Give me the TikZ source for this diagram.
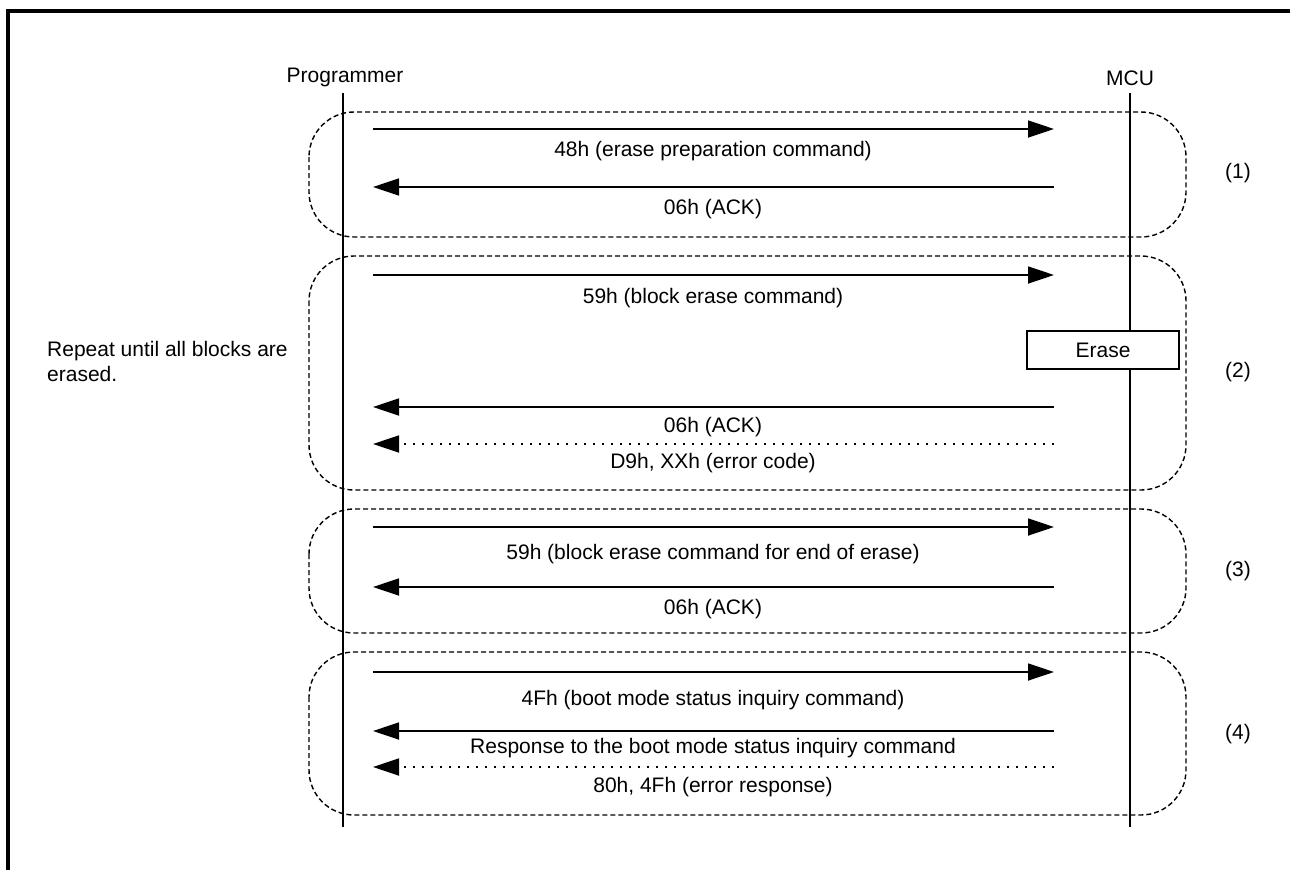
\documentclass[tikz,border=0pt]{standalone}
\usepackage{fontspec}
\setmainfont{Liberation Sans}
\usetikzlibrary{arrows.meta}
\begin{document}
\begin{tikzpicture}[x=1pt,y=-1pt,
  every node/.style={font=\fontsize{21}{25}\selectfont, inner sep=0pt},
  frameline/.style={line width=3.5pt},
  life/.style={line width=1.6pt},
  grp/.style={dash pattern=on 5pt off 3pt, line width=1.4pt, rounded corners=45pt},
  msg/.style={line width=1.8pt, -{Triangle[length=26pt,width=17pt]}},
  errmsg/.style={msg, dash pattern=on 2pt off 7pt},
  procbox/.style={draw, line width=1.4pt, fill=white, minimum width=152pt, minimum height=38pt}
]
\useasboundingbox (0,0) rectangle (1290,870);
% frame (top and left)
\coordinate (ftr) at (1290,11);
\coordinate (ftl) at (8,11);
\coordinate (fbl) at (8,870);
\draw[frameline] (ftr) -- (ftl) -- (fbl);

% group boxes
\draw[grp] (309,112) rectangle (1186,237);
\draw[grp] (309,256) rectangle (1186,490);
\draw[grp] (309,509) rectangle (1186,633);
\draw[grp] (309,652) rectangle (1186,815);

% lifelines
\node (prog) at (345,77) {Programmer};
\node (mcu) at (1130,78) {MCU};
\coordinate (pt) at (343,93);
\coordinate (pb) at (343,827);
\coordinate (mt) at (1130,93);
\coordinate (mb) at (1130,827);
\draw[life] (pt) -- (pb);
\draw[life] (mt) -- (mb);

% erase box
\node[procbox] (erase) at (1103,350) {Erase};

% message end points
\foreach \n/\y in {a/129,b/187,c/275,d/407,e/444,f/527,g/587,h/672,i/731,j/767}{
  \coordinate (\n L) at (373,\y);
  \coordinate (\n R) at (1054,\y);
}
% group 1
\draw[msg] (aL) -- (aR);
\node (ta) at (713,151) {48h (erase preparation command)};
\draw[msg] (bR) -- (bL);
\node (tb) at (713,209) {06h (ACK)};
% group 2
\draw[msg] (cL) -- (cR);
\node (tc) at (713,298) {59h (block erase command)};
\draw[msg] (dR) -- (dL);
\node (td) at (713,427) {06h (ACK)};
\draw[errmsg] (eR) -- (eL);
\node (te) at (713,463) {D9h, XXh (error code)};
% group 3
\draw[msg] (fL) -- (fR);
\node (tf) at (713,554) {59h (block erase command for end of erase)};
\draw[msg] (gR) -- (gL);
\node (tg) at (713,609) {06h (ACK)};
% group 4
\draw[msg] (hL) -- (hR);
\node (th) at (713,700) {4Fh (boot mode status inquiry command)};
\draw[msg] (iR) -- (iL);
\node (ti) at (713,748) {Response to the boot mode status inquiry command};
\draw[errmsg] (jR) -- (jL);
\node (tj) at (713,787) {80h, 4Fh (error response)};

% step labels
\node (s1) at (1238,173) {(1)};
\node (s2) at (1238,372) {(2)};
\node (s3) at (1238,571) {(3)};
\node (s4) at (1238,734) {(4)};

% repeat note
\node[anchor=west, align=left] (rep) at (47,361) {Repeat until all blocks are\\erased.};
\end{tikzpicture}
\end{document}
